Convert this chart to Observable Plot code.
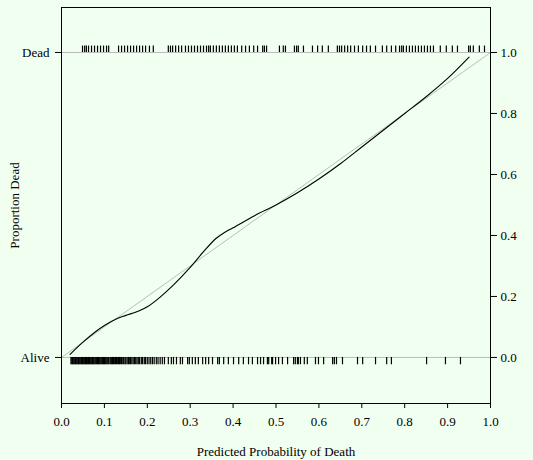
<!DOCTYPE html>
<html>
<head>
<meta charset="utf-8">
<script src="https://cdn.jsdelivr.net/npm/d3@7"></script>
<script src="https://cdn.jsdelivr.net/npm/@observablehq/plot@0.6"></script>
<style>
  html, body { margin: 0; padding: 0; background: #f0fff0; }
  #chart svg { display: block; }
</style>
</head>
<body>
<div id="chart"></div>
<script>
// Smoothed calibration curve (predicted probability vs observed proportion dead)
const curveX = [0.02,0.05,0.08,0.10,0.13,0.15,0.18,0.20,0.23,0.26,0.30,0.33,0.36,0.38,0.40,0.45,0.50,0.55,0.60,0.65,0.70,0.75,0.80,0.85,0.90,0.95];
const curveY = [0.01,0.05,0.085,0.105,0.128,0.138,0.152,0.166,0.198,0.236,0.295,0.345,0.39,0.41,0.425,0.465,0.50,0.54,0.585,0.635,0.69,0.745,0.80,0.855,0.915,0.985];

// Rug: predicted probabilities of patients who died
const deadProbs = [0.049,0.054,0.058,0.063,0.070,0.077,0.084,0.091,0.098,0.105,0.110,
  0.133,0.140,0.147,0.154,0.161,0.168,0.175,0.182,0.189,0.196,0.205,0.214,
  0.249,0.254,0.259,0.266,0.273,0.280,0.289,0.296,0.303,0.310,0.317,0.324,0.331,0.338,0.343,0.347,0.354,0.361,0.368,0.375,0.382,0.389,0.396,0.403,0.410,0.420,0.429,0.438,0.448,0.457,0.469,0.473,0.478,
  0.508,0.517,0.522,0.543,0.548,0.552,0.564,0.585,0.597,0.608,0.622,
  0.643,0.648,0.653,0.660,0.667,0.674,0.683,0.692,0.702,0.711,0.720,0.732,
  0.748,0.758,0.769,0.779,0.788,0.793,0.797,0.804,0.811,0.818,0.825,0.832,0.839,0.846,0.853,0.860,
  0.867,0.883,0.897,0.911,0.923,0.949,0.953,0.960,0.974,0.986];

// Rug: predicted probabilities of patients who survived
const aliveProbs = [0.022,0.024,0.026,0.027,0.029,0.031,0.033,0.034,0.036,0.038,0.040,0.041,0.043,0.045,0.047,0.049,0.050,0.052,0.054,0.056,0.058,0.059,0.061,0.063,0.065,0.067,0.069,0.071,0.072,0.074,0.076,0.078,0.080,0.082,0.084,0.086,0.088,0.090,0.092,0.094,0.096,0.098,0.100,0.102,0.104,0.106,0.108,0.110,0.113,0.115,0.117,0.119,0.121,0.124,0.126,0.128,0.131,0.133,0.135,0.138,0.140,0.143,0.145,0.148,0.150,0.153,0.156,0.158,0.161,0.164,0.167,0.170,0.173,0.176,0.179,0.182,0.186,0.189,0.193,0.196,0.200,0.204,0.208,0.212,0.216,0.221,0.225,0.230,0.235,0.240,
  0.249,0.256,0.261,0.268,0.277,0.282,0.294,0.298,0.305,0.312,0.319,0.329,0.336,0.343,0.352,0.364,0.368,0.378,0.389,0.401,0.413,0.424,0.436,0.445,0.457,0.464,0.471,
  0.480,0.483,0.490,0.492,0.499,0.506,0.515,0.527,0.541,0.545,0.550,0.552,0.557,0.566,0.573,0.592,0.599,0.611,0.632,0.636,0.641,0.655,0.690,0.702,0.732,0.758,0.769,0.851,0.895,0.930];

const xTicks = [0,0.1,0.2,0.3,0.4,0.5,0.6,0.7,0.8,0.9,1.0];
const yTicksRight = [0,0.2,0.4,0.6,0.8,1.0];
const yTicksLeft = [0,1];
const yLeftLabels = ["Alive","Dead"];

const curve = curveX.map((x, i) => ({x, y: curveY[i]}));
const diag = [{x: 0, y: 0}, {x: 1, y: 1}];

const chart = Plot.plot({
  width: 533,
  height: 460,
  marginLeft: 61,
  marginRight: 43,
  marginTop: 7,
  marginBottom: 57,
  style: {background: "#f0fff0", fontFamily: "'Liberation Serif', 'Times New Roman', serif", fontSize: "13px", color: "#000"},
  x: {domain: [0, 1]},
  y: {domain: [-0.151, 1.1475]},
  marks: [
    Plot.ruleY([0, 1], {stroke: "#bbbbbb", strokeWidth: 1}),
    Plot.line(diag, {x: "x", y: "y", stroke: "#bbbbbb", strokeWidth: 1}),
    Plot.line(curve, {x: "x", y: "y", stroke: "#000", strokeWidth: 1.1, curve: "catmull-rom"}),
    Plot.ruleX(deadProbs, {x: d => d, y1: 1, y2: 1.021, stroke: "#000", strokeWidth: 1.2}),
    Plot.ruleX(aliveProbs, {x: d => d, y1: 0, y2: -0.024, stroke: "#000", strokeWidth: 1.2}),
    Plot.frame({stroke: "#000"}),
    Plot.axisX({ticks: xTicks, tickFormat: d3.format(".1f"), tickSize: 5, tickPadding: 8, fontSize: 13, label: null}),
    Plot.axisY({anchor: "left", ticks: yTicksLeft, tickFormat: d => yLeftLabels[d], tickSize: 6, tickPadding: 6, fontSize: 13, label: null}),
    Plot.axisY({anchor: "right", ticks: yTicksRight, tickFormat: d3.format(".1f"), tickSize: 6, tickPadding: 4, fontSize: 13, label: null}),
    Plot.text(["Proportion Dead"], {frameAnchor: "left", textAnchor: "middle", rotate: -90, dx: -47, fontSize: 13}),
    Plot.text(["Predicted Probability of Death"], {frameAnchor: "bottom", lineAnchor: "middle", dy: 48, fontSize: 13})
  ]
});

document.getElementById("chart").appendChild(chart);
</script>
</body>
</html>
